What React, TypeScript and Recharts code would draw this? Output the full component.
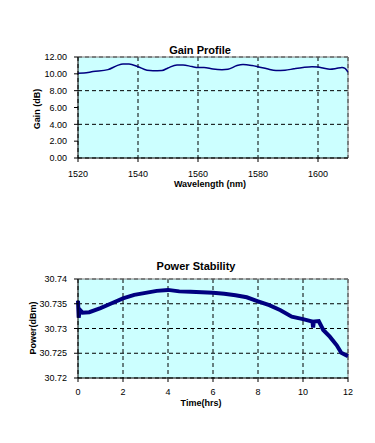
import React from 'react';
import {
	LineChart,
	Line,
	XAxis,
	YAxis,
	CartesianGrid,
	ReferenceLine,
} from 'recharts';

// gain profile (nm -> dB)
const wavelengths = [
	1520, 1522, 1525, 1530, 1533, 1535, 1537, 1540, 1543, 1545, 1548, 1550,
	1553, 1555, 1558, 1560, 1562, 1565, 1568, 1570, 1573, 1575, 1578, 1580,
	1583, 1586, 1589, 1592, 1595, 1598, 1600, 1602, 1604, 1606, 1608, 1609,
	1610,
];
const gains = [
	10.08, 10.1, 10.27, 10.5, 10.98, 11.18, 11.18, 10.85, 10.43, 10.38,
	10.4, 10.7, 11.06, 11.06, 10.86, 10.75, 10.75, 10.57, 10.5, 10.55, 10.98,
	11.1, 10.98, 10.84, 10.6, 10.4, 10.43, 10.6, 10.75, 10.84, 10.8, 10.65,
	10.55, 10.63, 10.76, 10.65, 10.2,
];
const wavelengthTicks = [1520, 1540, 1560, 1580, 1600];
const gainTicks = [0, 2, 4, 6, 8, 10, 12];

// power stability over 12 hours
const hours = [
	0, 0.03, 0.08, 0.2, 0.5, 1, 1.5, 2, 2.5, 3, 3.5, 4, 4.5, 5, 5.5, 6, 6.5,
	7, 7.5, 8, 8.5, 9, 9.5, 10, 10.42, 10.45, 10.48, 10.7, 10.9, 11.2, 11.5,
	11.7, 12,
];
const powers = [
	30.7356, 30.7322, 30.7338, 30.7332, 30.7333, 30.7341, 30.7351, 30.7361,
	30.7368, 30.7372, 30.7376, 30.7378, 30.7375, 30.7374, 30.7373, 30.7372,
	30.737, 30.7367, 30.7363, 30.7355, 30.7347, 30.7337, 30.7324, 30.7319,
	30.7314, 30.7302, 30.7314, 30.7315, 30.7297, 30.7283, 30.7266, 30.7251,
	30.7244,
];
const timeTicks = [0, 2, 4, 6, 8, 10, 12];
const powerTicks = [30.72, 30.725, 30.73, 30.735, 30.74];

const gainData = wavelengths.map((w, i) => ({ w, gain: gains[i] }));
const powerData = hours.map((t, i) => ({ t, power: powers[i] }));

const font = '"Liberation Sans", Arial, sans-serif';
const tickStyle = { fontSize: 9, fill: '#000', fontFamily: font };
const plotBg = '#CCFFFF';
const lineColor = '#000080';

function Title({ text, cx, cy, size = 11 }) {
	return (
		<div
			style={{
				position: 'absolute',
				left: cx - 150,
				top: cy - size / 2,
				width: 300,
				textAlign: 'center',
				fontFamily: font,
				fontWeight: 'bold',
				fontSize: size,
				lineHeight: 1,
				whiteSpace: 'nowrap',
			}}
		>
			{text}
		</div>
	);
}

function VLabel({ text, cx, cy }) {
	return (
		<div
			style={{
				position: 'absolute',
				left: cx,
				top: cy,
				transform: 'translate(-50%, -50%) rotate(-90deg)',
				fontFamily: font,
				fontWeight: 'bold',
				fontSize: 9,
				lineHeight: 1,
				whiteSpace: 'nowrap',
			}}
		>
			{text}
		</div>
	);
}

export default function App() {
	return (
		<div
			style={{
				position: 'absolute',
				left: 0,
				top: 0,
				width: 375,
				height: 443,
				background: '#fff',
				overflow: 'hidden',
			}}
		>
			<div style={{ position: 'absolute', left: 0, top: 0 }}>
				<LineChart
					width={375}
					height={200}
					data={gainData}
					margin={{ top: 57, right: 27, bottom: 12, left: 38 }}
				>
					<CartesianGrid
						stroke='#000'
						strokeDasharray='4 3'
						fill={plotBg}
						fillOpacity={1}
					/>
					<XAxis
						dataKey='w'
						type='number'
						domain={[1520, 1610]}
						ticks={wavelengthTicks}
						allowDataOverflow
						height={30}
						tickSize={4}
						tickMargin={9}
						tick={tickStyle}
						stroke='#000'
					/>
					<YAxis
						type='number'
						domain={[0, 12]}
						ticks={gainTicks}
						width={40}
						tickSize={4}
						tickMargin={7}
						tick={tickStyle}
						stroke='#000'
						tickFormatter={(v) => Number(v).toFixed(2)}
					/>
					<ReferenceLine y={12} stroke='#808080' strokeWidth={1} />
					<ReferenceLine x={1610} stroke='#808080' strokeWidth={1} />
					<Line
						type='monotone'
						dataKey='gain'
						stroke={lineColor}
						strokeWidth={1.5}
						dot={false}
						isAnimationActive={false}
					/>
				</LineChart>
			</div>
			<Title text='Gain Profile' cx={200} cy={50} />
			<Title text='Wavelength (nm)' cx={210} cy={184} size={9} />
			<VLabel text='Gain (dB)' cx={37} cy={109} />

			<div style={{ position: 'absolute', left: 0, top: 230 }}>
				<LineChart
					width={375}
					height={200}
					data={powerData}
					margin={{ top: 49, right: 27, bottom: 22, left: 38 }}
				>
					<CartesianGrid
						stroke='#000'
						strokeDasharray='4 3'
						fill={plotBg}
						fillOpacity={1}
					/>
					<XAxis
						dataKey='t'
						type='number'
						domain={[0, 12]}
						ticks={timeTicks}
						height={30}
						tickSize={4}
						tickMargin={7}
						tick={tickStyle}
						stroke='#000'
					/>
					<YAxis
						type='number'
						domain={[30.72, 30.74]}
						ticks={powerTicks}
						allowDataOverflow
						width={40}
						tickSize={4}
						tickMargin={7}
						tick={tickStyle}
						stroke='#000'
						tickFormatter={(v) => String(Number(Number(v).toFixed(3)))}
					/>
					<ReferenceLine y={30.74} stroke='#808080' strokeWidth={1} />
					<ReferenceLine x={12} stroke='#808080' strokeWidth={1} />
					<Line
						type='linear'
						dataKey='power'
						stroke={lineColor}
						strokeWidth={4}
						dot={false}
						isAnimationActive={false}
					/>
				</LineChart>
			</div>
			<Title text='Power Stability' cx={196} cy={266} />
			<Title text='Time(hrs)' cx={201} cy={403} size={9} />
			<VLabel text='Power(dBm)' cx={33} cy={328} />
		</div>
	);
}
